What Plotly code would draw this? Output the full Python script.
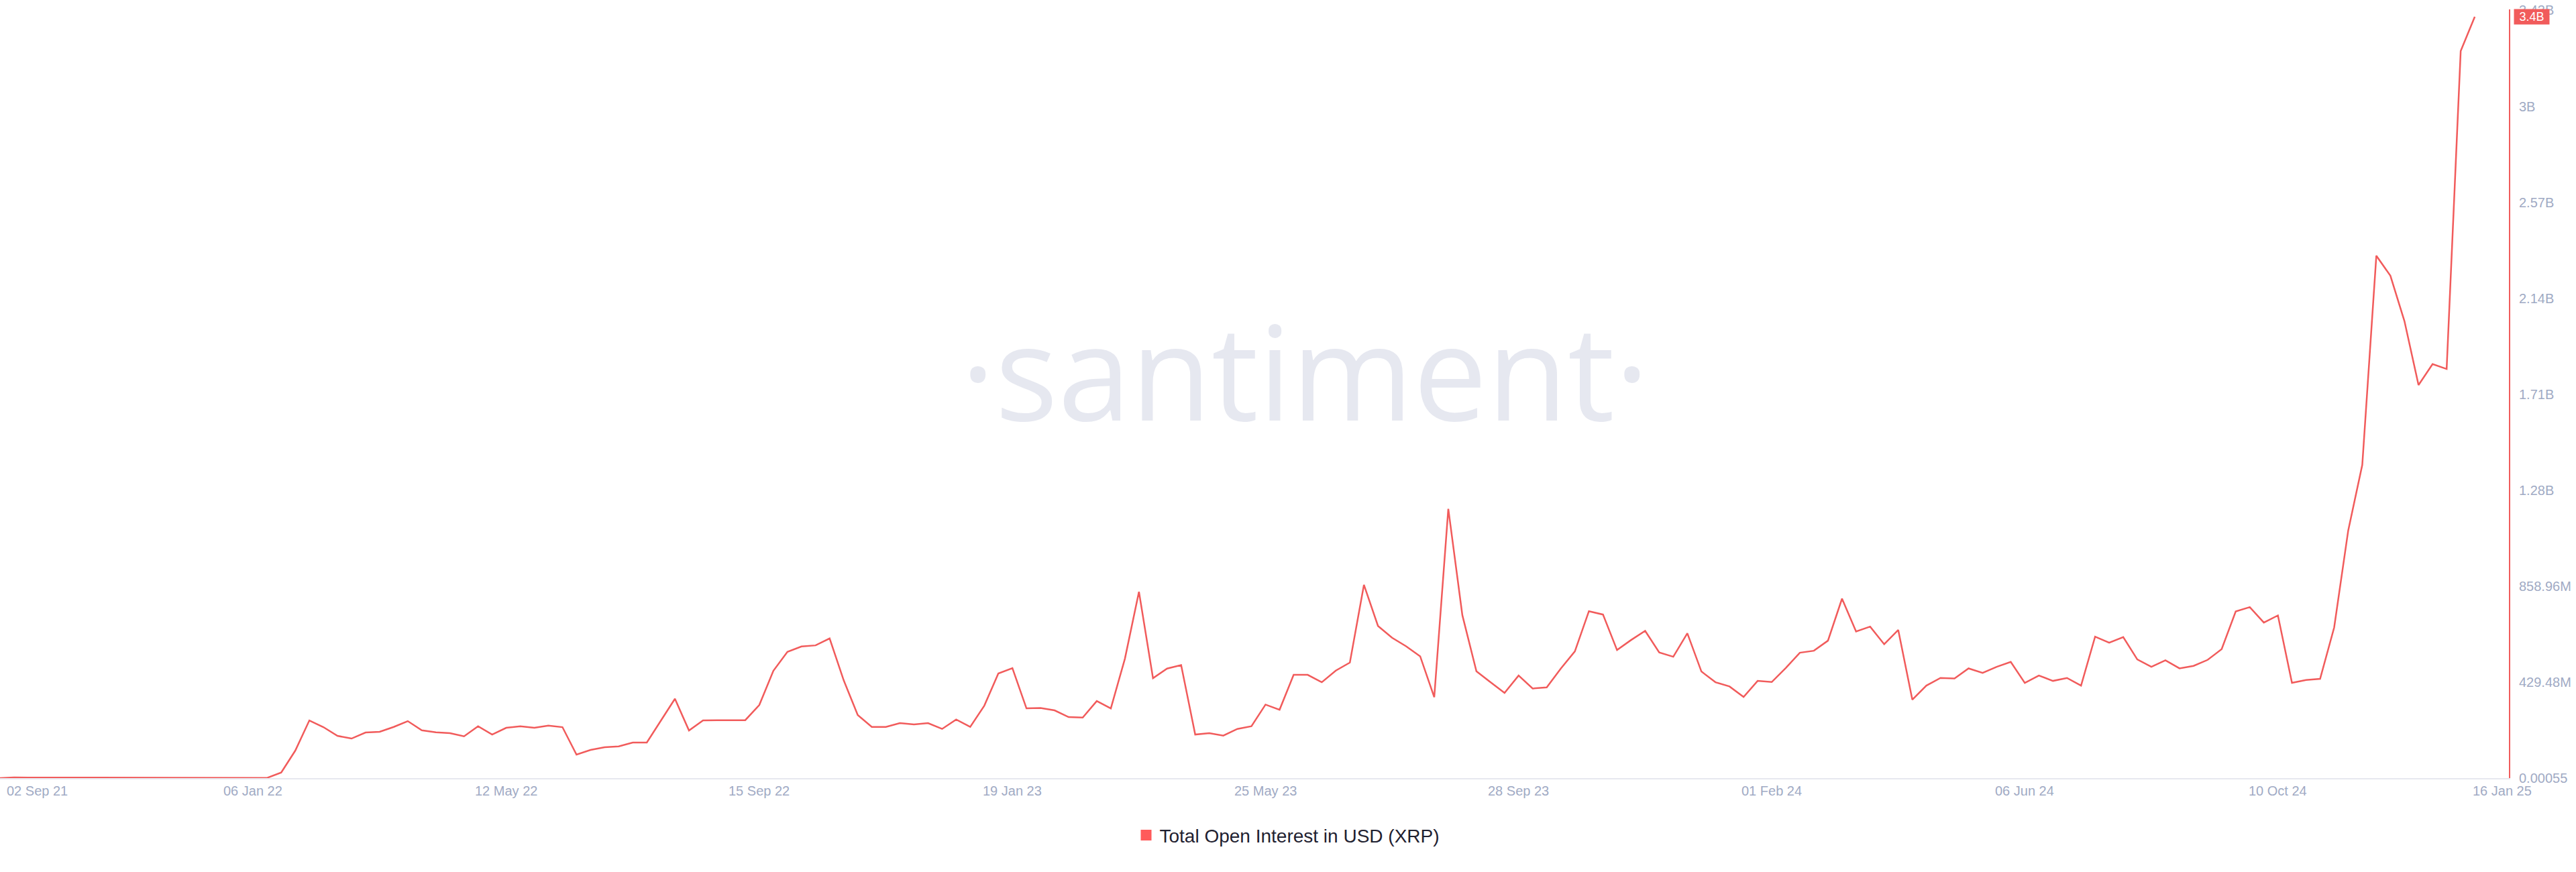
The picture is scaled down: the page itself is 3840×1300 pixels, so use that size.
import pandas as pd
import plotly.graph_objects as go

# ---- data -------------------------------------------------------------
start_date = "2021-09-02"
n_weeks = 177
dates = pd.date_range(start_date, periods=n_weeks, freq="7D")

# Total open interest in USD (millions), weekly
oi_musd = [
    0.00055e-6, 3.0, 2.0, 1.5, 1.2, 1.5, 2.0, 2.5, 2.2, 2.0,
    1.8, 2.0, 1.5, 1.0, 0.8, 1.2, 1.0, 0.9, 1.1, 1.0,
    25, 123, 258, 228, 189, 177, 204, 207, 229, 255,
    214, 205, 201, 187, 232, 195, 225, 232, 225, 235,
    228, 105, 126, 138, 142, 159, 159, 258, 355, 213,
    258, 259, 258, 259, 327, 480, 565, 589, 594, 625,
    438, 282, 229, 229, 246, 240, 246, 220, 262, 229,
    324, 468, 492, 312, 314, 303, 273, 271, 345, 312,
    534, 834, 447, 490, 506, 195, 201, 190, 220, 232,
    329, 306, 462, 462, 429, 481, 517, 865, 681, 628,
    590, 545, 362, 1205, 729, 478, 429, 381, 459, 401,
    406, 490, 567, 747, 732, 573, 618, 659, 562, 543,
    648, 477, 429, 410, 363, 435, 430, 493, 561, 570,
    615, 803, 656, 678, 599, 663, 351, 414, 448, 446,
    491, 471, 498, 520, 426, 459, 435, 448, 414, 633,
    606, 631, 531, 498, 527, 491, 502, 529, 577, 746,
    765, 696, 728, 426, 439, 444, 674, 1108, 1402, 2338,
    2248, 2045, 1759, 1853, 1831, 3254, 3407,
]
oi_usd = [v * 1e6 for v in oi_musd]

series_name = "Total Open Interest in USD (XRP)"
last_label = "3.4B"

x_tick_idx = [0, 18, 36, 54, 72, 90, 108, 126, 144, 162, 176]
x_tick_text = ["02 Sep 21", "06 Jan 22", "12 May 22", "15 Sep 22", "19 Jan 23",
               "25 May 23", "28 Sep 23", "01 Feb 24", "06 Jun 24", "10 Oct 24",
               "16 Jan 25"]

y_step = 429.48e6
y_tick_vals = [0.00055] + [y_step * k for k in range(1, 9)]
y_tick_text = ["0.00055", "429.48M", "858.96M", "1.28B", "1.71B",
               "2.14B", "2.57B", "3B", "3.43B"]

# ---- styling ----------------------------------------------------------
RED = "#f15b5b"
AXIS_TXT = "#9faac4"
FONT = "Liberation Sans, Arial, sans-serif"

fig = go.Figure()
fig.add_trace(go.Scatter(
    x=dates, y=oi_usd, mode="lines",
    line=dict(color=RED, width=2.5),
    showlegend=False, hoverinfo="skip",
))
# legend entry drawn as a square swatch
fig.add_trace(go.Scatter(
    x=[None], y=[None], mode="markers", name=series_name,
    marker=dict(symbol="square", size=17, color="#ff5b5b"),
    showlegend=True,
))

x_end = dates[-1] + pd.Timedelta(days=17)

fig.update_layout(
    width=3840, height=1300,
    paper_bgcolor="white", plot_bgcolor="white",
    margin=dict(l=0, r=100, t=14, b=140),
    font=dict(family=FONT, color=AXIS_TXT, size=20),
    showlegend=True,
    hovermode=False,
    legend=dict(
        orientation="h", xref="container", yref="container",
        x=0.5, xanchor="center", y=0.042, yanchor="middle",
        font=dict(size=28, color="#1f2130", family=FONT),
        bgcolor="rgba(0,0,0,0)",
    ),
    xaxis=dict(
        type="date", range=[dates[0], x_end],
        showgrid=False, zeroline=False,
        showline=True, linecolor="#e6e8ef", linewidth=2,
        showticklabels=False, ticks="",
    ),
    yaxis=dict(
        side="right", range=[0.00055, 3.4402e9],
        showgrid=False, zeroline=False,
        showline=True, linecolor=RED, linewidth=2,
        tickmode="array", tickvals=y_tick_vals, ticktext=y_tick_text,
        ticks="outside", ticklen=9, tickcolor="rgba(0,0,0,0)",
        tickfont=dict(size=20, color=AXIS_TXT, family=FONT),
    ),
)

# x tick labels as text anchored at the tick dates
for i, (idx, txt) in enumerate(zip(x_tick_idx, x_tick_text)):
    if i == 0:
        anchor, shift = "left", 8
    elif i == len(x_tick_idx) - 1:
        anchor, shift = "center", 41
    else:
        anchor, shift = "center", 0
    fig.add_annotation(
        x=dates[idx], y=0, xref="x", yref="paper",
        yanchor="middle", xanchor=anchor, xshift=shift, yshift=-19,
        text=txt, showarrow=False,
        font=dict(size=20, color=AXIS_TXT, family=FONT),
    )

# watermark
fig.add_annotation(
    x=0.52, y=0.531, xref="paper", yref="paper",
    text="·santiment·", showarrow=False,
    font=dict(size=196, color="#e6e8f0", family="Open Sans"),
    xanchor="center", yanchor="middle",
)

# last value badge
fig.add_annotation(
    x=1, y=oi_usd[-1], xref="paper", yref="y",
    xanchor="left", yanchor="middle", xshift=7,
    text=last_label, showarrow=False,
    bgcolor=RED, width=52, height=22, borderpad=0,
    font=dict(size=18, color="white", family=FONT),
)

fig.write_html(
    "out.html",
    config={"displayModeBar": False, "staticPlot": True},
    post_script="document.body.style.margin='0';document.body.style.overflow='hidden';",
)
